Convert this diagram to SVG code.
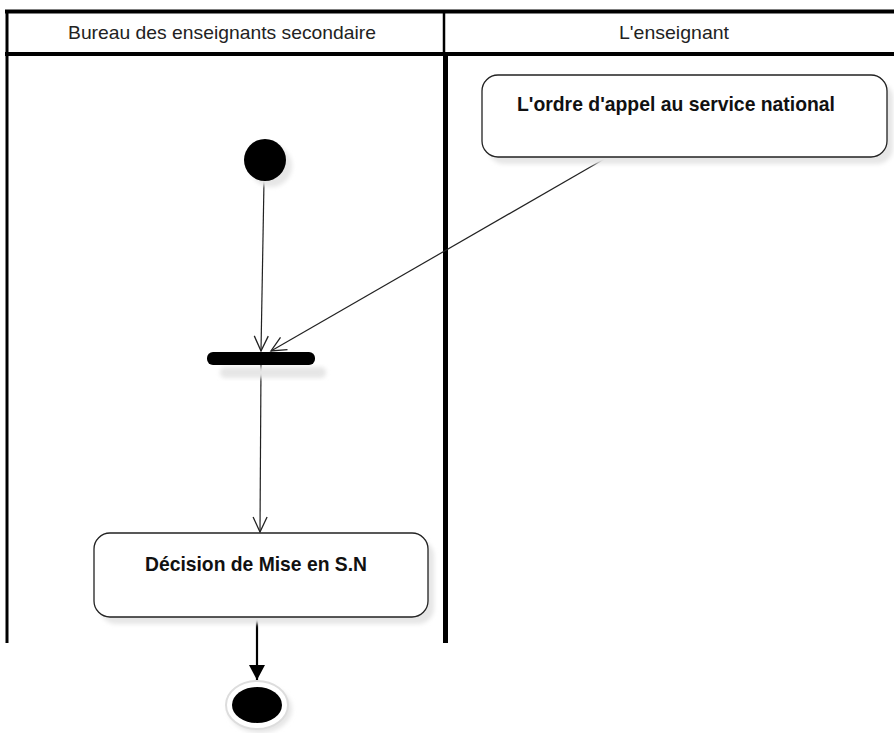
<svg xmlns="http://www.w3.org/2000/svg" width="894" height="733" viewBox="0 0 894 733">
<style>
.frame{stroke:#000;fill:none}
.hdr{font-family:"Liberation Sans",Arial,sans-serif;font-size:19px;fill:#222;text-anchor:middle}
.lbl{font-family:"Liberation Sans",Arial,sans-serif;font-size:21px;font-weight:bold;fill:#111;text-anchor:middle}
.act{fill:#fff;stroke:#222;stroke-width:1.3}
.shadow{fill:#e6e6e6;filter:url(#blur)}
.edge{stroke:#222;stroke-width:1.2;fill:none}
</style>
<defs>
<filter id="blur" x="-20%" y="-20%" width="140%" height="140%"><feGaussianBlur stdDeviation="2"/></filter>
<marker id="open" markerUnits="userSpaceOnUse" markerWidth="18" markerHeight="16" refX="16" refY="8" orient="auto" viewBox="0 0 18 16">
<path d="M1,1 L16,8 L1,15" fill="none" stroke="#222" stroke-width="1.3"/>
</marker>
<marker id="filled" markerUnits="userSpaceOnUse" markerWidth="16" markerHeight="16" refX="15" refY="8" orient="auto" viewBox="0 0 16 16">
<path d="M0,0 L15,8 L0,16 Z" fill="#000"/>
</marker>
</defs>
<rect width="894" height="733" fill="#fff"/>
<g id="swimlanes">
<line class="frame" x1="5" y1="11.5" x2="894" y2="11.5" stroke-width="4"/>
<line class="frame" x1="5" y1="54" x2="894" y2="54" stroke-width="4"/>
<line class="frame" x1="7" y1="10" x2="7" y2="643" stroke-width="3"/>
<line class="frame" x1="444" y1="12" x2="444" y2="54" stroke-width="2.5"/>
<line class="frame" x1="445.5" y1="54" x2="445.5" y2="643" stroke-width="5"/>
<text class="hdr" x="222" y="39" textLength="308" lengthAdjust="spacingAndGlyphs">Bureau des enseignants secondaire</text>
<text class="hdr" x="674" y="39" textLength="110" lengthAdjust="spacingAndGlyphs">L'enseignant</text>
</g>
<g id="connectors">
<line class="edge" x1="264" y1="181" x2="261" y2="351" marker-end="url(#open)"/>
<line class="edge" x1="606" y1="158" x2="271" y2="351" marker-end="url(#open)"/>
<line class="edge" x1="261" y1="365" x2="260" y2="532" marker-end="url(#open)"/>
<line x1="257" y1="617" x2="257" y2="680" stroke="#000" stroke-width="2.2" marker-end="url(#filled)"/>
</g>
<g id="initial">
<circle cx="271" cy="166" r="21" class="shadow"/>
<circle cx="265" cy="160" r="21" fill="#000"/>
</g>
<g id="ordre">
<rect x="488" y="82" width="405" height="82" rx="16" class="shadow"/>
<rect x="482" y="75" width="405" height="82" rx="16" class="act"/>
<text class="lbl" x="676" y="111" textLength="318" lengthAdjust="spacingAndGlyphs">L'ordre d'appel au service national</text>
</g>
<g id="fork">
<rect x="220" y="367" width="106" height="11" rx="5" class="shadow"/>
<rect x="207" y="352" width="108" height="13" rx="6" fill="#000"/>
</g>
<g id="decision">
<rect x="100" y="540" width="334" height="84" rx="16" class="shadow"/>
<rect x="94" y="533" width="334" height="84" rx="16" class="act"/>
<text class="lbl" x="256" y="571" textLength="222" lengthAdjust="spacingAndGlyphs">Décision de Mise en S.N</text>
</g>
<g id="final">
<ellipse cx="260" cy="709" rx="32" ry="24" class="shadow"/>
<ellipse cx="257" cy="705" rx="31" ry="24" fill="#fff" stroke="#ddd" stroke-width="2"/>
<ellipse cx="257" cy="705" rx="25" ry="18" fill="#000"/>
</g>
</svg>
